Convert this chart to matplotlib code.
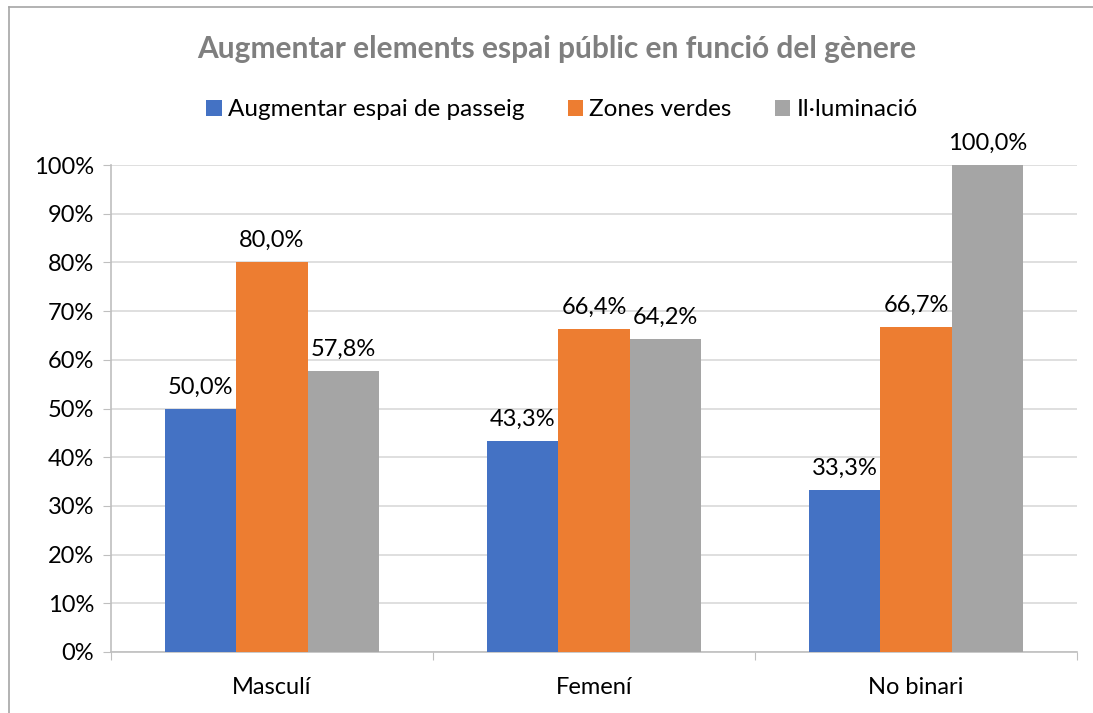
import matplotlib.pyplot as plt
from matplotlib.lines import Line2D
import numpy as np

# data
categories = ['Masculí', 'Femení', 'No binari']
series_names = ['Augmentar espai de passeig', 'Zones verdes', 'Il·luminació']
passeig = [50.0, 43.3, 33.3]
zones_verdes = [80.0, 66.4, 66.7]
illuminacio = [57.8, 64.2, 100.0]
series_values = [passeig, zones_verdes, illuminacio]
colors = ['#4472C4', '#ED7D31', '#A5A5A5']
ytick_values = list(range(0, 101, 10))

plt.rcParams['font.family'] = ['Lato', 'DejaVu Sans']

W, H = 1093, 713
fig = plt.figure(figsize=(W / 100, H / 100), dpi=100)

#plot area in pixels
left, right, top, bottom = 111, 1077, 165, 652
ax = fig.add_axes([left / W, (H - bottom) / H, (right - left) / W, (bottom - top) / H])

x = np.arange(len(categories))
bar_w = 1 / 4.5   # Excel style gap width 150%
for i, (name, vals) in enumerate(zip(series_names, series_values)):
    pos = x + (i - 1) * bar_w
    ax.bar(pos, vals, width=bar_w, color=colors[i], label=name, zorder=3)
    for px, v in zip(pos, vals):
        ax.annotate(f'{v:.1f}%'.replace('.', ','), (px, v), xytext=(0, 8),
                    textcoords='offset points', ha='center', va='bottom',
                    fontsize=17, color='#000000')

ax.set_xlim(-0.5, len(categories) - 0.5)
ax.set_ylim(0, 100)

ax.set_yticks(ytick_values)
ax.set_yticklabels([f'{v}%' for v in ytick_values], fontsize=17)
ax.yaxis.grid(True, color='#D9D9D9', linewidth=1.2, zorder=0)
ax.tick_params(axis='y', length=6, color='#BFBFBF', pad=6)

# category boundaries as ticks, labels on minor ticks
ax.set_xticks(np.arange(-0.5, len(categories), 1.0))
ax.set_xticklabels([])
ax.set_xticks(x, minor=True)
ax.set_xticklabels(categories, minor=True, fontsize=17)
ax.tick_params(axis='x', which='major', length=6, color='#BFBFBF')
ax.tick_params(axis='x', which='minor', length=0, pad=18)

for s in ['top', 'right']:
    ax.spines[s].set_visible(False)
for s in ['left', 'bottom']:
    ax.spines[s].set_color('#BFBFBF')
    ax.spines[s].set_linewidth(1.2)

# title and legend
fig.text(557 / W, 1 - 49 / H, 'Augmentar elements espai públic en funció del gènere',
         ha='center', va='center', fontsize=21.5, fontweight='bold', color='#7F7F7F')
fig.legend(loc='center', bbox_to_anchor=(562 / W, 1 - 110 / H), ncol=3, frameon=False,
           fontsize=17.5, handlelength=0.62, handleheight=0.62, handletextpad=0.25,
           columnspacing=1.8, borderpad=0, borderaxespad=0)

# chart border (runs off the right and bottom edge)
fig.add_artist(Line2D([9 / W, 9 / W], [0, 1 - 7 / H], color='#A6A6A6', linewidth=1.2))
fig.add_artist(Line2D([9 / W, 1], [1 - 7 / H, 1 - 7 / H], color='#A6A6A6', linewidth=1.2))

fig.savefig('out.png', dpi=100)
